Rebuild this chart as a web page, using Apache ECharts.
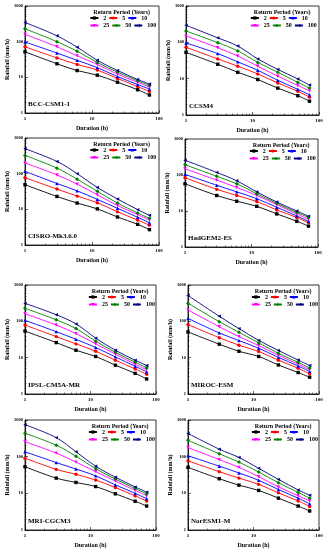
<!DOCTYPE html>
<html>
<head>
<meta charset="utf-8">
<script src="https://cdn.jsdelivr.net/npm/echarts@6/dist/echarts.min.js"></script>
<style>
html,body{margin:0;padding:0;background:#fff;}
#c{width:327px;height:550px;}
</style>
</head>
<body>
<div id="c"></div>
<script>
// Durations (h)
const durations = [1, 3, 6, 12, 24, 48, 72];
// Return periods (years)
const returnPeriods = ['2', '5', '10', '25', '50', '100'];
// Model names
const models = ['BCC-CSM1-1', 'CCSM4', 'CISRO-Mk3.6.0', 'HadGEM2-ES', 'IPSL-CM5A-MR', 'MIROC-ESM', 'MRI-CGCM3', 'NorESM1-M'];
// Axis tick labels
const xTicks = [1, 10, 100];
const yTicks = [1, 10, 100, 1000];

// Rainfall (mm/h) per return period, rows: 2,5,10,25,50,100
const bccCsm11 = [
  [52, 24, 15.5, 11.5, 7.3, 4.5, 3.2],
  [72, 35, 23, 16, 9.3, 5.5, 4.0],
  [98, 48, 30, 18.7, 10.5, 6.3, 4.7],
  [160, 72, 40, 23, 12.3, 7.3, 5.3],
  [230, 100, 54, 26, 14, 8, 5.9],
  [345, 146, 70, 30, 15.6, 8.7, 6.5]
];
const ccsm4 = [
  [53, 25, 15, 9.5, 5.5, 3.4, 2.4],
  [73, 35, 22, 13.5, 7.6, 4.5, 3.1],
  [96, 49, 29, 17, 9, 5.1, 3.6],
  [150, 71, 42, 22, 11.7, 6.5, 4.6],
  [205, 98, 58, 28, 15, 7.9, 5.5],
  [295, 133, 79, 35, 18, 9.8, 6.7]
];
const cisroMk360 = [
  [49, 23, 15, 10.3, 6.1, 3.8, 2.7],
  [77, 37, 23.5, 15.3, 8.5, 5.0, 3.6],
  [116, 53, 33, 19, 10.7, 6.0, 4.2],
  [200, 92, 51, 25.5, 12.8, 7.1, 5.0],
  [325, 143, 70, 32, 15, 7.9, 5.6],
  [500, 220, 100, 41, 19.5, 9.8, 6.8]
];
const hadgem2Es = [
  [57, 27, 18.7, 13.5, 8.3, 5.2, 3.8],
  [84, 40, 27, 18.3, 10.7, 6.6, 4.7],
  [104, 52, 34, 22, 12.7, 7.3, 5.2],
  [149, 72, 45, 27, 15, 8.3, 5.9],
  [193, 92, 57, 30, 16.3, 9.1, 6.7],
  [257, 118, 69, 34, 17.7, 10, 7.2]
];
const ipslCm5aMr = [
  [54, 26, 16, 10.8, 6.2, 3.7, 2.6],
  [79, 38, 24, 15, 8.5, 4.9, 3.5],
  [106, 52, 32, 19, 10.5, 5.8, 4.1],
  [162, 79, 46, 24, 12.5, 6.6, 4.7],
  [228, 110, 63, 28.5, 14, 7.5, 5.3],
  [312, 152, 85, 34.5, 16, 8.5, 6.1]
];
const mirocEsm = [
  [51, 23.5, 15, 10.8, 6.3, 3.9, 2.9],
  [81, 35.5, 22, 14.8, 8.5, 5.1, 3.6],
  [120, 48, 29.5, 18.2, 10.2, 5.9, 4.2],
  [205, 71, 38, 21.5, 11.7, 6.6, 4.7],
  [316, 98, 50, 25.5, 13.2, 7.4, 5.2],
  [515, 138, 63, 30, 15.8, 8.6, 6.1]
];
const mriCgcm3 = [
  [53, 26, 19.8, 15.3, 9.7, 6.1, 4.5],
  [91, 45, 33, 23, 14.4, 8.5, 6.2],
  [136, 69, 46, 30, 17, 10, 7.2],
  [255, 125, 71, 39, 21.6, 12, 8.6],
  [435, 205, 103, 47, 24.5, 13.6, 9.7],
  [745, 330, 136, 55, 27.5, 15, 10.8]
];
const noresm1M = [
  [51, 25, 16.7, 12, 7.4, 4.5, 3.3],
  [77, 39, 26, 17.6, 10.3, 6.2, 4.4],
  [106, 55, 36, 22.7, 12.7, 7.4, 5.2],
  [177, 83, 51, 28.5, 15, 8.6, 6.2],
  [280, 120, 71, 38, 19.4, 10.6, 7.4],
  [430, 160, 95, 48, 24, 12.4, 8.9]
];
const modelData = [bccCsm11, ccsm4, cisroMk360, hadgem2Es, ipslCm5aMr, mirocEsm, mriCgcm3, noresm1M];

const colors = ['#000000', '#ff0000', '#0000ff', '#ff00ff', '#008000', '#000080'];
const symbols = ['rect', 'circle', 'triangle', 'triangle', 'diamond', 'triangle'];
const symbolRot = [0, 0, 0, 180, 0, 90];

// panel plot-area rectangles [left, top, width, height]
const panels = [
  [25, 6, 134, 107],
  [186, 6, 133, 109],
  [25, 138, 134, 107],
  [185, 139, 133, 108],
  [25, 285, 131, 109],
  [188, 285, 131, 109],
  [25, 420, 131, 110],
  [188, 420, 131, 110]
];

const FONT = '"Liberation Serif", "DejaVu Serif", serif';
const grids = [], xAxes = [], yAxes = [], series = [], titles = [], legends = [];

panels.forEach((p, i) => {
  const [l, t, w, h] = p;
  grids.push({left: l, top: t, width: w, height: h, show: true, borderColor: '#000', borderWidth: 0.8, backgroundColor: 'transparent'});
  xAxes.push({
    type: 'log', logBase: 10, gridIndex: i, min: 1, max: 100,
    name: 'Duration (h)', nameLocation: 'middle', nameGap: 12,
    nameTextStyle: {fontFamily: FONT, fontWeight: 'bold', fontSize: 6, color: '#000'},
    axisLine: {show: true, lineStyle: {color: '#000', width: 0.8}},
    axisTick: {show: true, inside: true, length: 3, lineStyle: {color: '#000', width: 0.6}},
    minorTick: {show: true, splitNumber: 9, length: 1.5, lineStyle: {color: '#000', width: 0.5}},
    axisLabel: {fontFamily: FONT, fontWeight: 'bold', fontSize: 5, color: '#000', margin: 3,
      formatter: v => xTicks.includes(Math.round(v)) ? String(Math.round(v)) : ''},
    splitLine: {show: false}
  });
  yAxes.push({
    type: 'log', logBase: 10, gridIndex: i, min: 1, max: 1000,
    name: 'Rainfall (mm/h)', nameLocation: 'middle', nameGap: 13, nameRotate: 90,
    nameTextStyle: {fontFamily: FONT, fontWeight: 'bold', fontSize: 6, color: '#000'},
    axisLine: {show: true, lineStyle: {color: '#000', width: 0.8}},
    axisTick: {show: true, inside: true, length: 3, lineStyle: {color: '#000', width: 0.6}},
    minorTick: {show: true, splitNumber: 9, length: 1.5, lineStyle: {color: '#000', width: 0.5}},
    axisLabel: {fontFamily: FONT, fontWeight: 'bold', fontSize: 4.5, color: '#000', margin: 2,
      formatter: v => yTicks.includes(Math.round(v)) ? String(Math.round(v)) : ''},
    splitLine: {show: false}
  });
  modelData[i].forEach((vals, k) => {
    series.push({
      name: returnPeriods[k], type: 'line', xAxisIndex: i, yAxisIndex: i,
      data: durations.map((d, j) => [d, vals[j]]),
      smooth: 0.35,
      symbol: symbols[k], symbolRotate: symbolRot[k], symbolSize: k === 4 ? 4 : 3.4,
      lineStyle: {color: colors[k], width: 0.9},
      itemStyle: {color: colors[k]},
      emphasis: {disabled: true}, animation: false
    });
  });
  titles.push({
    text: models[i], left: l + 3, top: t + h - 12, padding: 0,
    textStyle: {fontFamily: FONT, fontWeight: 'bold', fontSize: 7, color: '#000'}
  });
  titles.push({
    text: 'Return Period (Years)', left: l + w * 0.51, top: t + 3.5, padding: 0,
    textStyle: {fontFamily: FONT, fontWeight: 'bold', fontSize: 6, color: '#000'}
  });
  const legBase = {
    itemWidth: 8, itemHeight: 4, itemGap: 2, selectedMode: false, padding: 0,
    textStyle: {fontFamily: FONT, fontWeight: 'bold', fontSize: 6, color: '#000'}
  };
  legends.push(Object.assign({}, legBase, {data: ['2', '5', '10'], left: l + w * 0.48, top: t + 9}));
  legends.push(Object.assign({}, legBase, {data: ['25', '50', '100'], left: l + w * 0.48, top: t + 16.5}));
});

const chart = echarts.init(document.getElementById('c'), null, {renderer: 'canvas'});
chart.setOption({
  animation: false,
  backgroundColor: '#fff',
  title: titles, legend: legends,
  grid: grids, xAxis: xAxes, yAxis: yAxes, series: series
});
</script>
</body>
</html>
